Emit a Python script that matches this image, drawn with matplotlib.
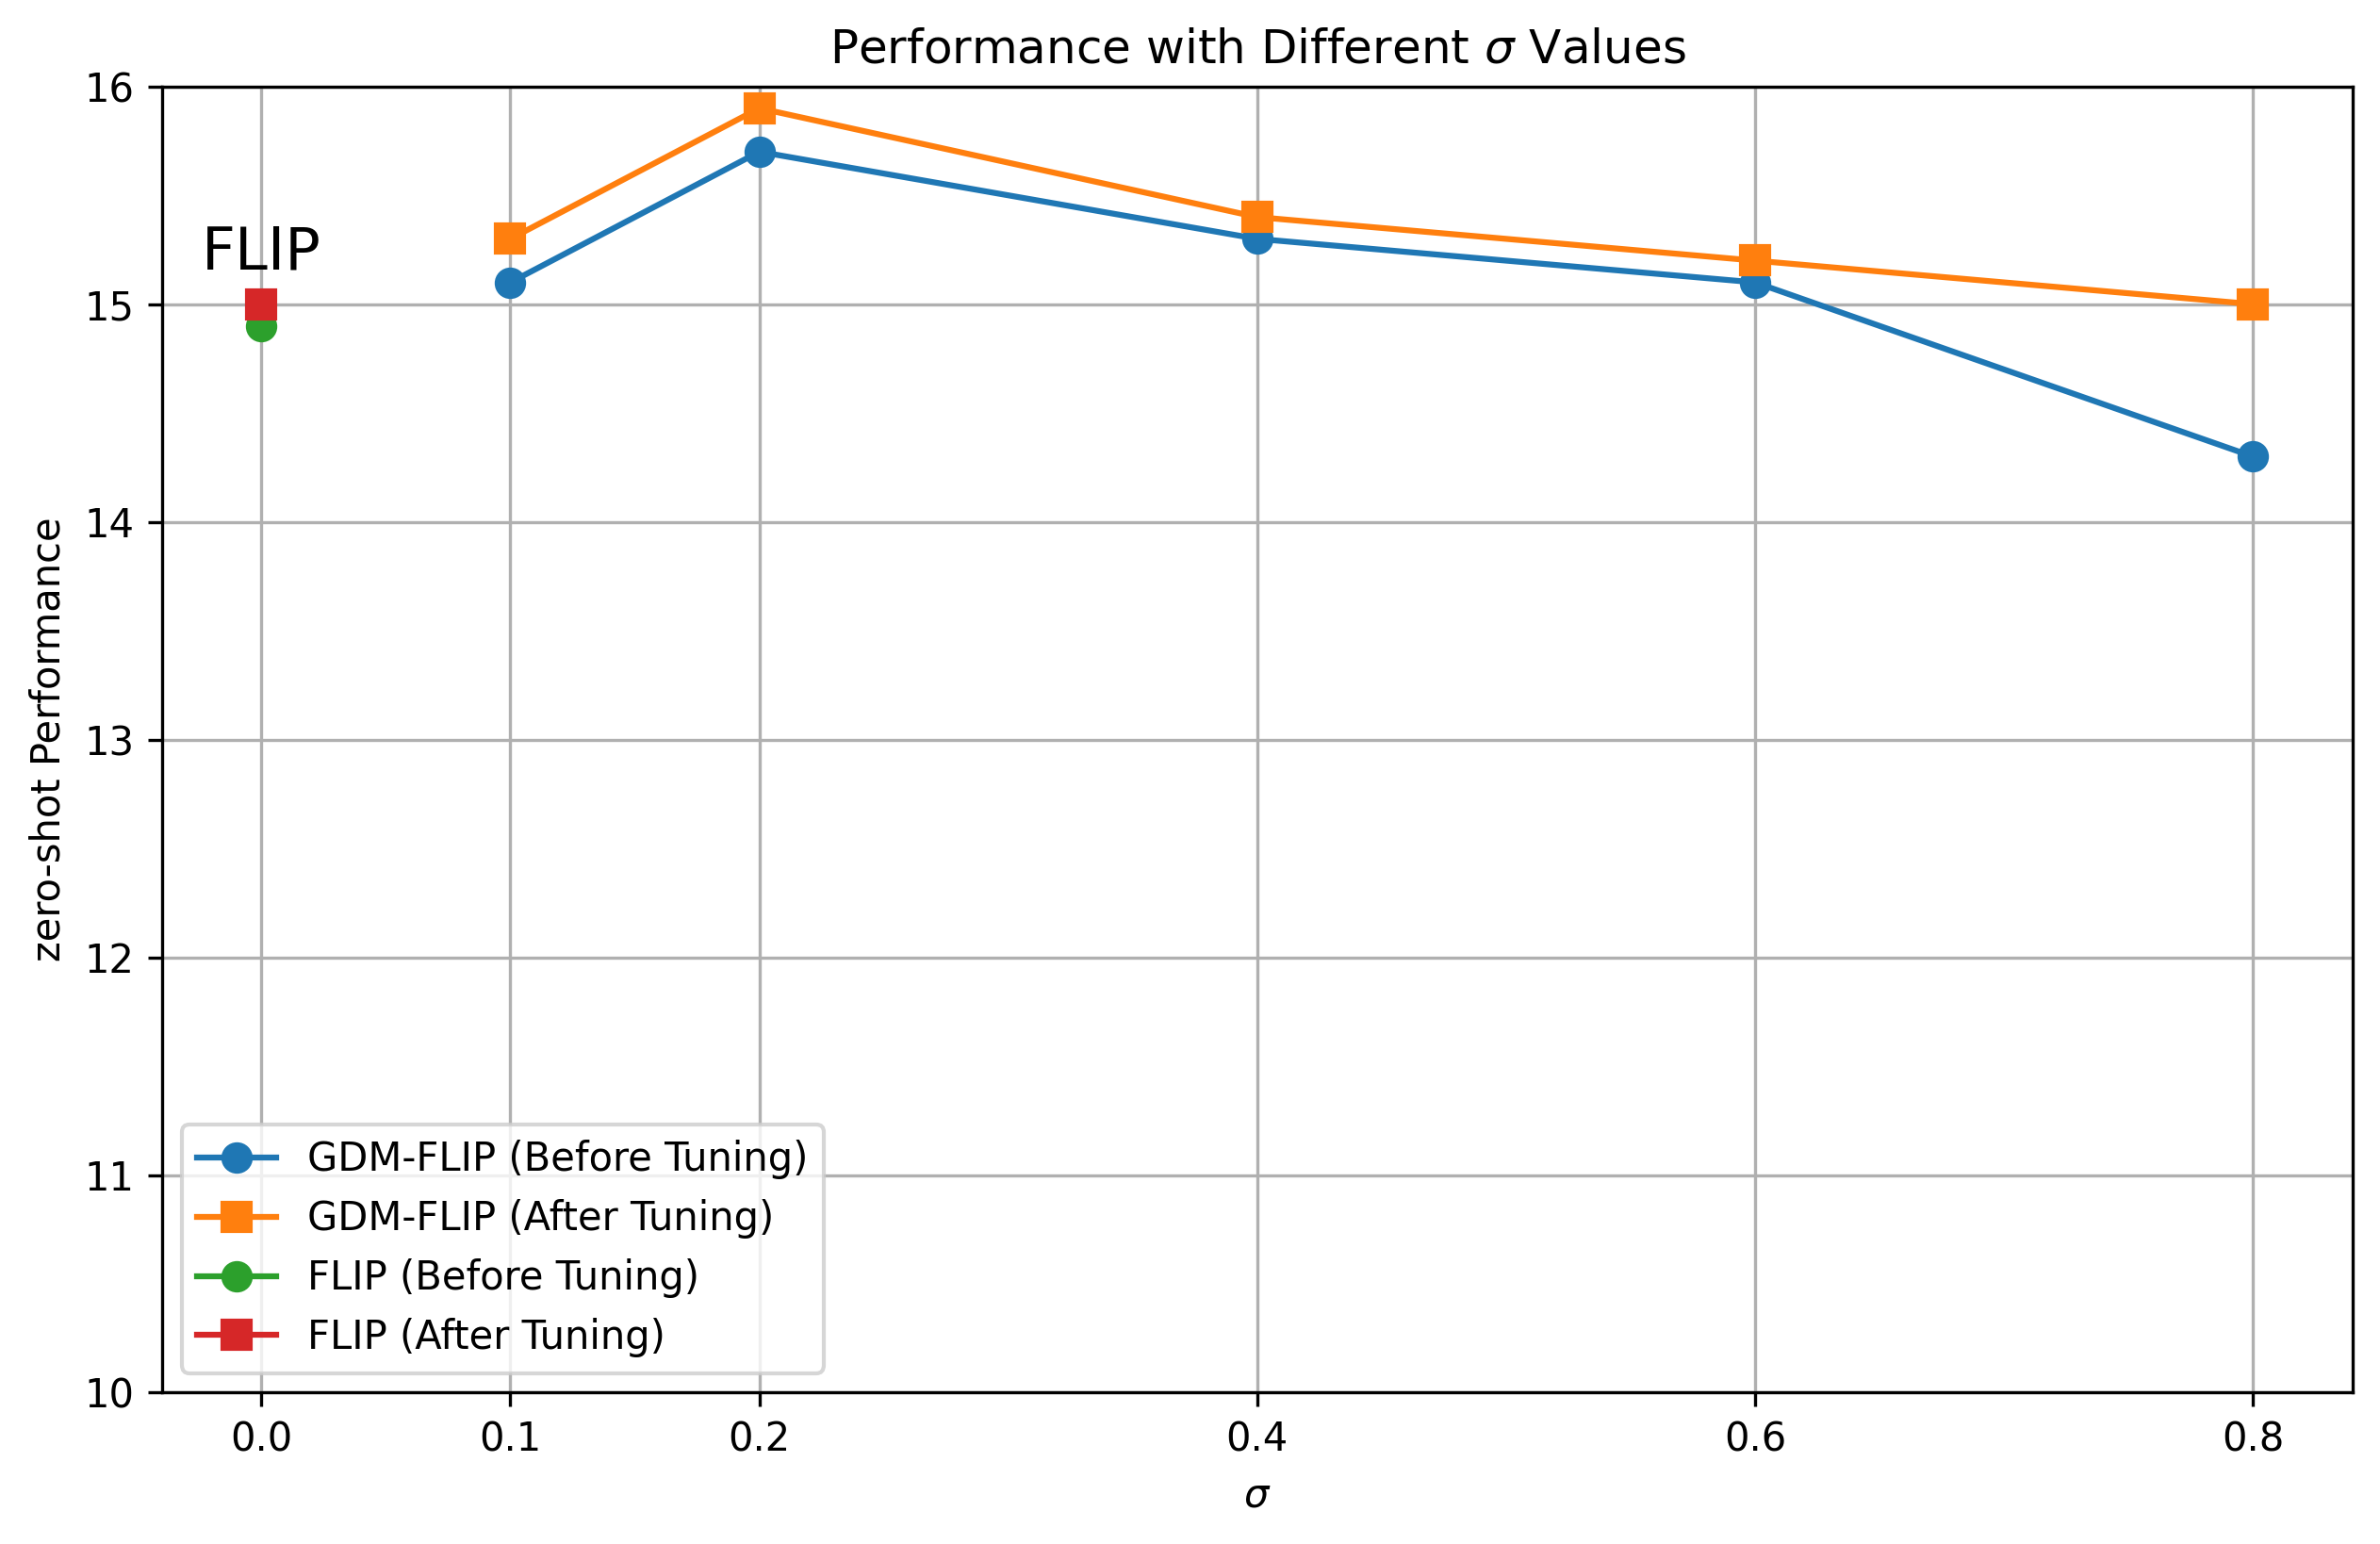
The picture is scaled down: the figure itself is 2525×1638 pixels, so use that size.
import matplotlib
matplotlib.use("Agg")
import matplotlib.pyplot as plt

# sigma values and zero-shot scores
sigma = [0.1, 0.2, 0.4, 0.6, 0.8]
gdm_before = [15.1, 15.7, 15.3, 15.1, 14.3]
gdm_after = [15.3, 15.9, 15.4, 15.2, 15.0]

flip_sigma = [0.0]
flip_before = [14.9]
flip_after = [15.0]

xticks = [0.0, 0.1, 0.2, 0.4, 0.6, 0.8]

fig, ax = plt.subplots(figsize=(2525 / 300, 1638 / 300), dpi=300)
fig.subplots_adjust(left=0.068, right=0.9885, top=0.944, bottom=0.098)

ax.plot(sigma, gdm_before, "o-", color="#1f77b4", markersize=7, label="GDM-FLIP (Before Tuning)")
ax.plot(sigma, gdm_after, "s-", color="#ff7f0e", markersize=7, label="GDM-FLIP (After Tuning)")
ax.plot(flip_sigma, flip_before, "o-", color="#2ca02c", markersize=7, label="FLIP (Before Tuning)")
ax.plot(flip_sigma, flip_after, "s-", color="#d62728", markersize=7, label="FLIP (After Tuning)")

ax.text(0.0, 15.16, "FLIP", ha="center", fontsize=15)

ax.set_xticks(xticks)
ax.set_ylim(10, 16)
ax.set_xlabel(r"$\sigma$")
ax.set_ylabel("zero-shot Performance")
ax.set_title(r"Performance with Different $\sigma$ Values")
ax.grid(True)
ax.legend(loc="lower left")

fig.savefig("out.png", dpi=300)
